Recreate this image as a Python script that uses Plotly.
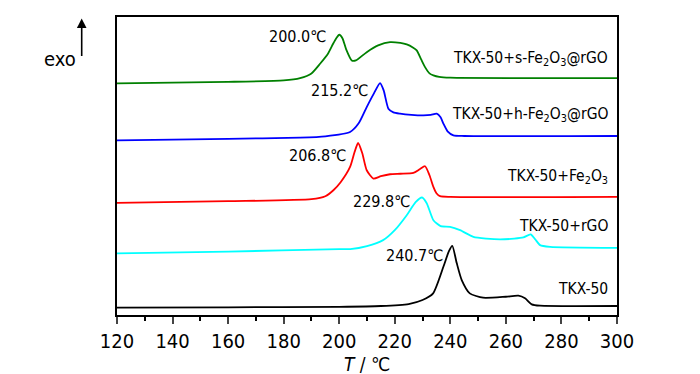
import plotly.graph_objects as go

# Temperatures (°C) and DSC signal (arbitrary units, offset) for each curve
t_tkx = [120, 160, 200, 215, 225, 230, 233.8, 237.5, 239.5, 240.7, 242.3, 244.1, 247, 251.8, 260, 264.5, 266.9, 269.3, 272.3, 300]
s_tkx = [7.3, 7.7, 8.2, 9, 11, 15, 21.7, 48.3, 64, 69.3, 52, 35, 21.7, 17.3, 18.3, 19.3, 16.7, 10.7, 9.3, 9]

t_rgo = [120, 160, 200, 204, 210, 215.8, 220, 224.3, 227.5, 229.8, 231.5, 233.9, 236.5, 239.9, 243.5, 248.3, 253, 257.9, 263, 266.3, 268.9, 270.5, 272.3, 275.9, 300]
s_rgo = [61.7, 63.5, 66, 66, 69, 75, 85, 100, 113, 117.7, 112, 95, 89, 88.3, 85, 78.3, 76.5, 75.7, 76.5, 77.7, 80.7, 76, 70, 68.3, 67.3]

t_fe = [120, 160, 190, 195, 197.9, 200.5, 203.9, 205.5, 206.8, 208.3, 209.9, 212.3, 215, 218.3, 222, 226.7, 229, 230.9, 232.5, 233.9, 235, 236.3, 240, 300]
s_fe = [112.3, 114, 116, 119, 125, 133, 148.3, 163, 172.3, 162, 145, 136.7, 139, 141, 141.5, 142.3, 146, 149, 140, 128.3, 122, 119, 118.3, 118.3]

t_h = [120, 160, 185.9, 195, 203.9, 207, 209.9, 212.5, 214.7, 216, 217.7, 219.5, 221.9, 226, 230.3, 233, 235.1, 236.5, 237.5, 239, 241.1, 245, 300]
s_h = [175, 176.5, 177.7, 179, 183.3, 192, 208.3, 222, 232.3, 225, 206.7, 203, 201.7, 200.5, 200, 200.5, 201.7, 198, 191.7, 184, 180, 179.3, 179.3]

t_s = [120, 160, 180, 185.9, 190, 193.1, 196, 197.8, 199, 200, 201.2, 202.5, 204.5, 206, 209.9, 214, 218.3, 222, 224.3, 226.5, 227.9, 229.5, 230.9, 232.5, 233.9, 236, 239.9, 300]
s_s = [232, 233.5, 235, 237.3, 242, 251.7, 262, 271.7, 277.5, 280.7, 277, 266, 255, 255, 263.3, 270, 273.3, 272.5, 271, 268, 265, 256, 248.3, 242, 240, 238.5, 237.7, 237.3]

series = [
    (t_tkx, s_tkx, "black", "TKX-50"),
    (t_rgo, s_rgo, "#00FFFF", "TKX-50+rGO"),
    (t_fe, s_fe, "#FF0000", "TKX-50+Fe2O3"),
    (t_h, s_h, "#0000FF", "TKX-50+h-Fe2O3@rGO"),
    (t_s, s_s, "#008000", "TKX-50+s-Fe2O3@rGO"),
]

x_ticks = [120, 140, 160, 180, 200, 220, 240, 260, 280, 300]

FONT = "DejaVu Sans Condensed, Liberation Sans Narrow, Arial Narrow, sans-serif"

fig = go.Figure()
for t, s, c, n in series:
    fig.add_trace(go.Scatter(x=t, y=s, mode="lines", name=n,
                             line=dict(color=c, width=1.8, shape="spline", smoothing=0.6),
                             showlegend=False, hoverinfo="skip"))

# Peak temperature labels
peaks = [
    ("200.0\u2103", 196, 279),
    ("215.2\u2103", 211.1, 225),
    ("206.8\u2103", 203.2, 160),
    ("229.8\u2103", 226.2, 113.3),
    ("240.7\u2103", 238.1, 60),
]
for txt, x, y in peaks:
    fig.add_annotation(x=x, y=y, text=txt, showarrow=False, xanchor="right", yanchor="middle",
                       font=dict(family=FONT, size=16, color="black"))

# Curve labels
curve_labels = [
    ("TKX-50+s-Fe<sub>2</sub>O<sub>3</sub>@rGO", 256),
    ("TKX-50+h-Fe<sub>2</sub>O<sub>3</sub>@rGO", 200.5),
    ("TKX-50+Fe<sub>2</sub>O<sub>3</sub>", 138.5),
    ("TKX-50+rGO", 89.3),
    ("TKX-50", 26),
]
for txt, y in curve_labels:
    fig.add_annotation(x=297.5, y=y, text=txt, showarrow=False, xanchor="right", yanchor="middle",
                       font=dict(family=FONT, size=15.5, color="black"))

# exo arrow
fig.add_annotation(xref="paper", yref="paper", x=-0.0706, y=0.995, ax=0, ay=51,
                   showarrow=True, arrowhead=2, arrowsize=1.2, arrowwidth=1.6, arrowcolor="black", text=" ")
fig.add_annotation(xref="paper", yref="paper", x=-0.114, y=0.858, text="exo", showarrow=False,
                   xanchor="center", yanchor="middle", font=dict(family=FONT, size=20, color="black"))

# x-axis title
fig.add_annotation(xref="paper", yref="paper", x=0.5, y=-0.163, text="<i>T</i> / \u2103", showarrow=False,
                   xanchor="center", yanchor="middle", font=dict(family=FONT, size=19, color="black"))

fig.update_layout(
    width=700, height=374,
    margin=dict(l=117, r=83, t=16.5, b=59, autoexpand=False),
    paper_bgcolor="white", plot_bgcolor="white", hovermode=False,
    font=dict(family=FONT, size=20, color="black"),
    xaxis=dict(range=[120, 300], tickvals=x_ticks, ticks="outside", ticklen=7, tickwidth=1.5,
               minor=dict(dtick=10, ticks="outside", ticklen=4, tickwidth=1.5, tickcolor="black"),
               showline=True, linewidth=2, linecolor="black", mirror=True, showgrid=False, zeroline=False,
               tickfont=dict(family=FONT, size=20, color="black")),
    yaxis=dict(range=[0, 298.5], showticklabels=False, ticks="", showline=True, linewidth=2,
               linecolor="black", mirror=True, showgrid=False, zeroline=False),
)

fig.write_html("out.html", config={"displayModeBar": False},
               post_script="document.body.style.margin='0';document.documentElement.style.overflow='hidden';")
